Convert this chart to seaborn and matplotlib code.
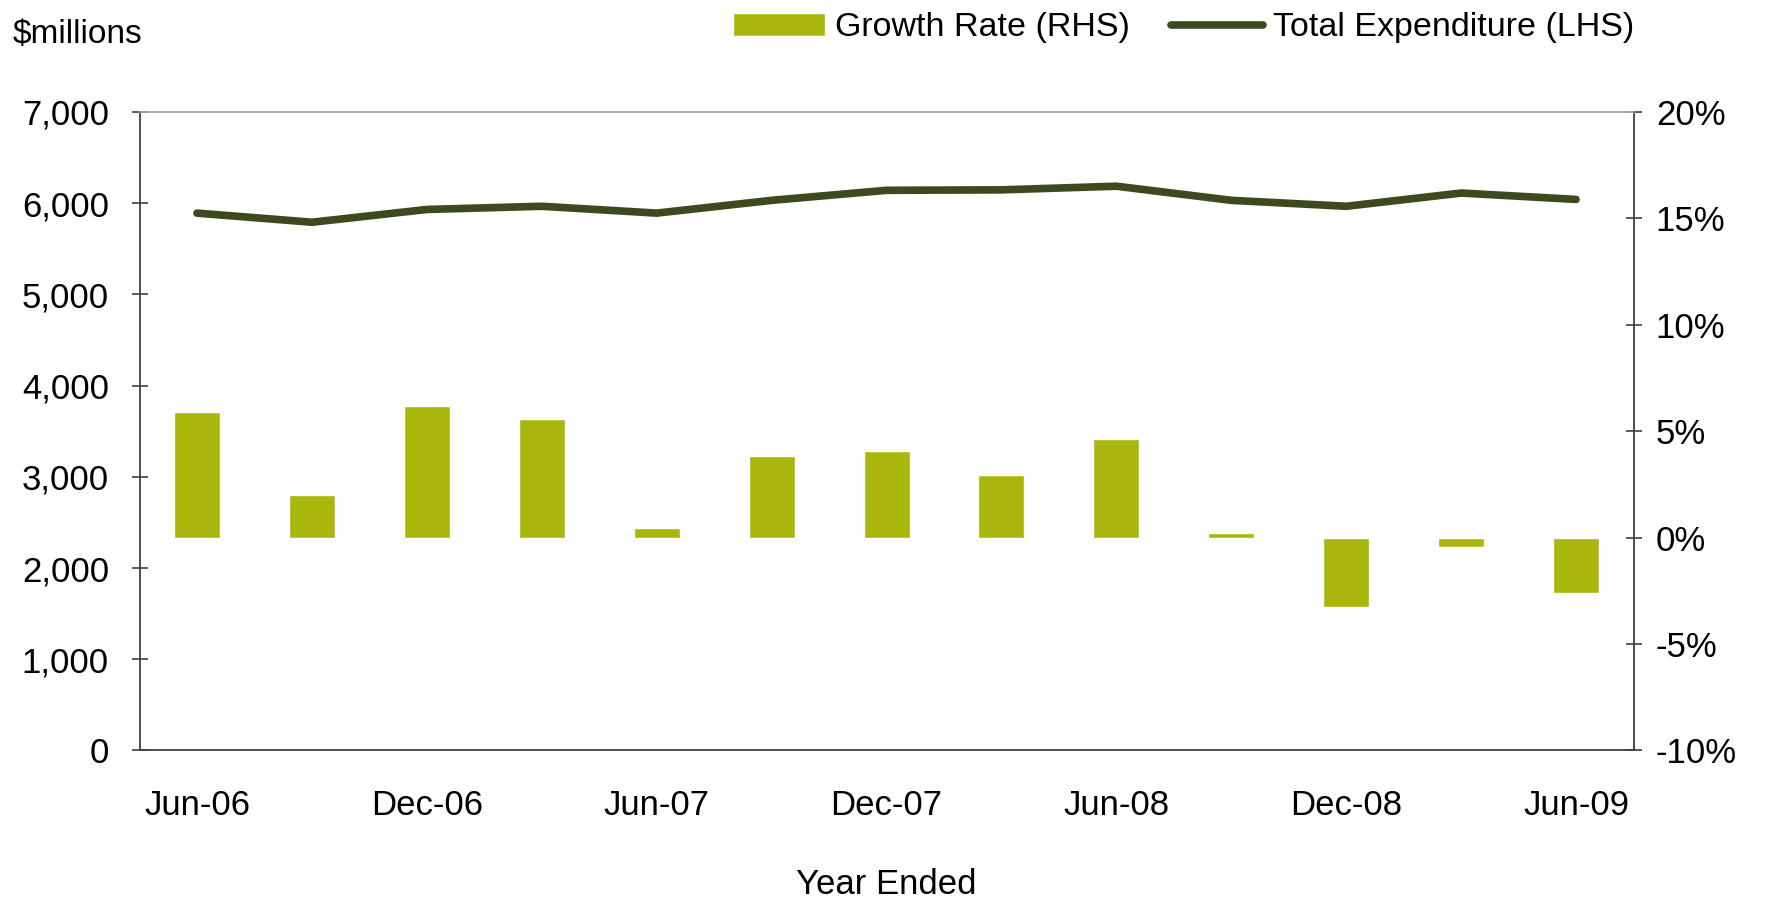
import numpy as np
import pandas as pd
import matplotlib
matplotlib.use("Agg")
import matplotlib.pyplot as plt
from matplotlib.ticker import FuncFormatter
from matplotlib.patches import Patch
from matplotlib.lines import Line2D
import seaborn as sns

# -----------------------------
# Data
# -----------------------------
quarters = [
    "Jun-06", "Sep-06", "Dec-06", "Mar-07", "Jun-07", "Sep-07", "Dec-07",
    "Mar-08", "Jun-08", "Sep-08", "Dec-08", "Mar-09", "Jun-09",
]

total_expenditure = [
    5890, 5790, 5930, 5965, 5890, 6030, 6140,
    6145, 6185, 6030, 5965, 6110, 6040,
]

growth_rate = [
    5.9, 2.0, 6.2, 5.55, 0.45, 3.85, 4.05,
    2.95, 4.65, 0.2, -3.25, -0.45, -2.6,
]

label_quarters = quarters[::2]

left_ticks = [0, 1000, 2000, 3000, 4000, 5000, 6000, 7000]
right_ticks = [-10, -5, 0, 5, 10, 15, 20]

bar_color = "#A9B60C"
line_color = "#3D4A20"
axis_color = "#404040"

df = pd.DataFrame({
    "quarter": quarters,
    "pos": np.arange(len(quarters)),
    "spend": total_expenditure,
    "growth": growth_rate,
})

# -----------------------------
# Style
# -----------------------------
sns.set_style("white")
plt.rcParams["font.family"] = ["Liberation Sans", "DejaVu Sans"]
plt.rcParams["text.color"] = "black"
plt.rcParams["axes.labelcolor"] = "black"

fig = plt.figure(figsize=(17.66, 9.02), dpi=100)
ax = fig.add_axes([0.079, 0.168, 0.846, 0.708])
ax2 = ax.twinx()

# bars on right axis
sns.barplot(
    data=df,
    x="quarter",
    y="growth",
    order=quarters,
    color=bar_color,
    saturation=1,
    width=0.4,
    ax=ax2,
)

# line on left axis
sns.lineplot(
    data=df,
    x="pos",
    y="spend",
    color=line_color,
    linewidth=5.5,
    solid_joinstyle="round",
    solid_capstyle="round",
    ax=ax,
)

# keep line above bars
ax.set_zorder(ax2.get_zorder() + 1)
ax.patch.set_visible(False)

# -----------------------------
# Axes
# -----------------------------
ax.set_xlim(-0.5, len(quarters) - 0.5)
ax.set_ylim(left_ticks[0], left_ticks[-1])
ax2.set_ylim(right_ticks[0], right_ticks[-1])

ax.set_yticks(left_ticks)
ax.yaxis.set_major_formatter(FuncFormatter(lambda v, p: f"{v:,.0f}"))
ax2.set_yticks(right_ticks)
ax2.yaxis.set_major_formatter(FuncFormatter(lambda v, p: f"{v:.0f}%"))

ax.set_xticks(np.arange(len(quarters) + 1) - 0.5)
ax.set_xticklabels([])
ax.set_xticks(np.arange(0, len(quarters), 2), minor=True)
ax.set_xticklabels(label_quarters, minor=True)

ax.tick_params(axis="x", which="major", direction="out", length=7,
               width=1.2, color=axis_color)
ax.tick_params(axis="x", which="minor", length=0, pad=28,
               labelsize=25, labelcolor="black")
ax.tick_params(axis="y", direction="inout", length=12, width=1.2,
               color=axis_color, labelsize=25, pad=16, labelcolor="black")
ax2.tick_params(axis="y", direction="inout", length=12, width=1.2,
                color=axis_color, labelsize=25, pad=10, labelcolor="black")

ax.set_ylabel("")
ax2.set_ylabel("")
ax2.set_xlabel("")
ax.set_xlabel("Year Ended", fontsize=25, labelpad=33, color="black")

for side in ["left", "bottom", "right"]:
    ax.spines[side].set_visible(True)
    ax.spines[side].set_color(axis_color)
    ax.spines[side].set_linewidth(1.3)
ax.spines["top"].set_visible(True)
ax.spines["top"].set_color("#A6A6A6")
ax.spines["top"].set_linewidth(1.3)
for side in ax2.spines:
    ax2.spines[side].set_visible(False)

ax.grid(False)
ax2.grid(False)

# -----------------------------
# Texts and legend
# -----------------------------
fig.text(0.007, 0.962, r"\$millions", fontsize=24, va="center", ha="left",
         color="black")

handles = [
    Patch(facecolor=bar_color, label="Growth Rate (RHS)"),
    Line2D([], [], color=line_color, linewidth=5.5,
           label="Total Expenditure (LHS)"),
]
fig.legend(
    handles=handles,
    loc="center right",
    bbox_to_anchor=(0.935, 0.969),
    ncol=2,
    frameon=False,
    fontsize=24.5,
    labelcolor="black",
    handlelength=2.7,
    handleheight=0.65,
    handletextpad=0.3,
    columnspacing=1.2,
    borderpad=0,
)

fig.savefig("out.png", dpi=100)
